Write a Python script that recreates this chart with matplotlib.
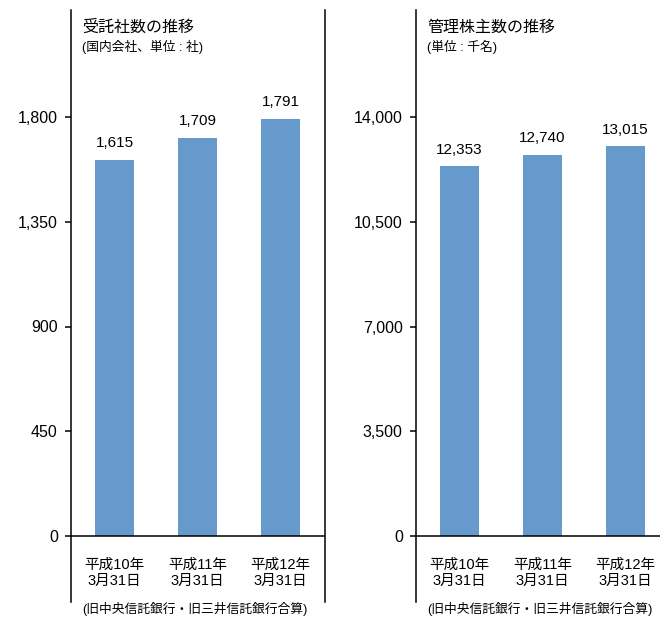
import matplotlib

matplotlib.use("Agg")
import matplotlib.pyplot as plt
from matplotlib.ticker import FuncFormatter

plt.rcParams["font.family"] = ["Liberation Sans", "Noto Sans CJK JP", "DejaVu Sans"]

# データ
dates = ["平成10年\n3月31日", "平成11年\n3月31日", "平成12年\n3月31日"]
companies = [1615, 1709, 1791]
shareholders = [12353, 12740, 13015]
company_ticks = [0, 450, 900, 1350, 1800]
holder_ticks = [0, 3500, 7000, 10500, 14000]

BAR = "#6699cc"
W, H = 660, 620


def px_axes(fig, x0, x1, y_top, y_bot):
    return fig.add_axes([x0 / W, (H - y_bot) / H, (x1 - x0) / W, (y_bot - y_top) / H])


def panel(ax, vals, ticks, ylo, yhi, xlim, right_spine):
    xs = range(len(vals))
    ax.bar(xs, vals, width=0.47, color=BAR, zorder=2)
    ax.set_xlim(*xlim)
    ax.set_ylim(ylo, yhi)
    ax.axhline(0, color="black", lw=1.1, zorder=3)
    for s in ["top", "bottom"]:
        ax.spines[s].set_visible(False)
    ax.spines["right"].set_visible(right_spine)
    for s in ["left", "right"]:
        ax.spines[s].set_linewidth(1.1)
    ax.set_xticks([])
    ax.set_yticks(ticks)
    ax.yaxis.set_major_formatter(FuncFormatter(lambda v, p: f"{int(v):,}"))
    ax.tick_params(axis="y", direction="out", length=4.5, width=1.1, pad=5,
                   labelsize=11.5)
    for x, v in zip(xs, vals):
        ax.annotate(f"{v:,}", xy=(x, v), xytext=(0, 7), textcoords="offset points",
                    ha="center", va="bottom", fontsize=11)
    for x, lab in zip(xs, dates):
        ax.annotate(lab, xy=(x, 0), xytext=(0, -26.5), textcoords="offset points",
                    ha="center", va="center", fontsize=10.5, linespacing=1.25)


fig = plt.figure(figsize=(W / 100, H / 100), dpi=100)

ax1 = px_axes(fig, 71, 325, 10, 602)
panel(ax1, companies, company_ticks, -(602 - 536) / 419 * 1800, (536 - 10) / 419 * 1800,
      (-0.527, 2.534), True)

ax2 = px_axes(fig, 416, 660, 10, 602)
panel(ax2, shareholders, holder_ticks, -(602 - 536) / 419 * 14000, (536 - 10) / 419 * 14000,
      (-0.522, 2.418), False)

# タイトル
fig.text(82 / W, 1 - 27 / H, "受託社数の推移", fontsize=11.5, va="center", ha="left")
fig.text(82 / W, 1 - 47 / H, "(国内会社、単位 : 社)", fontsize=9.2, va="center", ha="left")
fig.text(427 / W, 1 - 27 / H, "管理株主数の推移", fontsize=11.5, va="center", ha="left")
fig.text(427 / W, 1 - 47 / H, "(単位 : 千名)", fontsize=9.2, va="center", ha="left")

note = "(旧中央信託銀行・旧三井信託銀行合算)"
fig.text(82 / W, 1 - 609 / H, note, fontsize=9.2, va="center", ha="left")
fig.text(427 / W, 1 - 609 / H, note, fontsize=9.2, va="center", ha="left")

fig.savefig("out.png", dpi=100, facecolor="white")
